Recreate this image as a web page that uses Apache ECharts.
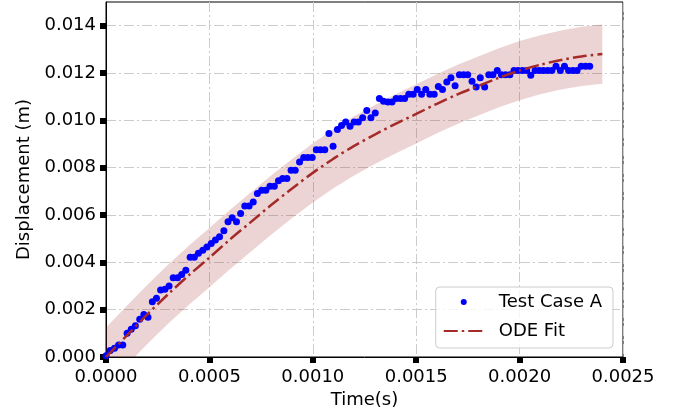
<!DOCTYPE html>
<html>
<head>
<meta charset="utf-8">
<script src="https://cdn.jsdelivr.net/npm/echarts@6/dist/echarts.min.js"></script>
<style>
  html, body { margin: 0; padding: 0; background: #ffffff; }
  #chart { width: 685px; height: 420px; }
</style>
</head>
<body>
<div id="chart"></div>
<script>
// Measured samples: time in microseconds, displacement in metres
const timeUs = [
  0, 20, 41, 61, 81, 102, 122, 142, 163, 183,
  203, 224, 244, 264, 285, 305, 325, 346, 366, 386,
  407, 427, 447, 468, 488, 509, 529, 549, 570, 590,
  610, 631, 651, 671, 692, 712, 732, 753, 773, 793,
  814, 834, 854, 875, 895, 915, 936, 956, 976, 997,
  1017, 1037, 1058, 1078, 1098, 1119, 1139, 1159, 1180, 1200,
  1220, 1241, 1261, 1281, 1302, 1322, 1342, 1363, 1383, 1403,
  1424, 1444, 1464, 1485, 1505, 1526, 1546, 1566, 1587, 1607,
  1627, 1648, 1668, 1688, 1709, 1729, 1749, 1770, 1790, 1810,
  1831, 1851, 1871, 1892, 1912, 1932, 1953, 1973, 1993, 2014,
  2034, 2054, 2075, 2095, 2115, 2136, 2156, 2176, 2197, 2217,
  2237, 2258, 2278, 2298, 2319, 2339
];
const dispM = [
  0.00005, 0.00027, 0.00037, 0.00051, 0.00051, 0.00100, 0.00117, 0.00132, 0.00159, 0.00180,
  0.00168, 0.00233, 0.00248, 0.00283, 0.00286, 0.00300, 0.00335, 0.00335, 0.00349, 0.00367,
  0.00421, 0.00421, 0.00438, 0.00451, 0.00465, 0.00480, 0.00494, 0.00508, 0.00533, 0.00571,
  0.00588, 0.00571, 0.00606, 0.00638, 0.00638, 0.00655, 0.00691, 0.00705, 0.00705, 0.00722,
  0.00722, 0.00745, 0.00754, 0.00754, 0.00789, 0.00789, 0.00824, 0.00843, 0.00843, 0.00843,
  0.00876, 0.00876, 0.00876, 0.00944, 0.00890, 0.00961, 0.00978, 0.00993, 0.00975, 0.00993,
  0.00993, 0.01011, 0.01042, 0.01011, 0.01031, 0.01092, 0.01081, 0.01077, 0.01077, 0.01092,
  0.01092, 0.01092, 0.01110, 0.01110, 0.01130, 0.01110, 0.01130, 0.01110, 0.01110, 0.01143,
  0.01130, 0.01162, 0.01180, 0.01146, 0.01193, 0.01193, 0.01193, 0.01165, 0.01141, 0.01180,
  0.01141, 0.01193, 0.01193, 0.01211, 0.01193, 0.01193, 0.01193, 0.01211, 0.01211, 0.01211,
  0.01211, 0.01190, 0.01211, 0.01211, 0.01211, 0.01211, 0.01211, 0.01229, 0.01211, 0.01229,
  0.01211, 0.01211, 0.01211, 0.01229, 0.01229, 0.01229
];

// ODE fit curve and its uncertainty band
const fitTimeS = [
  0, 0.0001, 0.0002, 0.0003, 0.0004, 0.0005, 0.0006, 0.0007, 0.0008, 0.0009,
  0.0010, 0.0011, 0.0012, 0.0013, 0.0014, 0.0015, 0.0016, 0.0017, 0.0018, 0.0019,
  0.0020, 0.0021, 0.0022, 0.0023, 0.0024
];
const fitDispM = [
  0, 0.00090, 0.00180, 0.00265, 0.00345, 0.00420, 0.00497, 0.00570, 0.00643, 0.00712,
  0.00778, 0.00838, 0.00892, 0.00940, 0.00985, 0.01027, 0.01070, 0.01110, 0.01145, 0.01180,
  0.01210, 0.01235, 0.01255, 0.01270, 0.01280
];
const fitBandHalfWidth = 0.00125;

// Axis ticks
const xTicks = [0, 0.0005, 0.0010, 0.0015, 0.0020, 0.0025];
const yTicks = [0, 0.002, 0.004, 0.006, 0.008, 0.010, 0.012, 0.014];

const FONT = 'DejaVu Sans';
const BROWN = '#a52a2a';
const gridLine = { color: '#cccccc', width: 1, type: [10, 3, 2, 3] };

const points = timeUs.map((t, i) => [t / 1e6, dispM[i]]);
const fitLine = fitTimeS.map((t, i) => [t, fitDispM[i]]);
const bandUpper = fitDispM.map((v) => v + fitBandHalfWidth);
const bandLower = fitDispM.map((v) => v - fitBandHalfWidth);

// Band outline: upper edge left to right, then lower edge right to left
function renderBand(params, api) {
  const pts = [];
  for (let i = 0; i < fitTimeS.length; i++) {
    pts.push(api.coord([fitTimeS[i], bandUpper[i]]));
  }
  for (let i = fitTimeS.length - 1; i >= 0; i--) {
    pts.push(api.coord([fitTimeS[i], bandLower[i]]));
  }
  return {
    type: 'polygon',
    shape: { points: pts, smooth: 0 },
    style: { fill: 'rgba(165,42,42,0.2)', stroke: null }
  };
}

const chart = echarts.init(document.getElementById('chart'), null, { renderer: 'canvas' });

chart.setOption({
  animation: false,
  backgroundColor: '#ffffff',
  textStyle: { fontFamily: FONT },
  grid: {
    left: 106, right: 62, top: 2, bottom: 63,
    show: true, borderColor: '#000000', borderWidth: 1,
    containLabel: false, outerBoundsMode: 'none'
  },
  legend: {
    right: 72, top: 287,
    orient: 'vertical',
    itemWidth: 40, itemHeight: 6, itemGap: 9,
    padding: [5, 11, 7, 7],
    backgroundColor: 'rgba(255,255,255,0.8)',
    borderColor: '#cccccc', borderWidth: 1, borderRadius: 4,
    textStyle: { fontFamily: FONT, fontSize: 18, color: '#000', lineHeight: 20, padding: [0, 0, 0, 10] },
    data: [
      { name: 'Test Case A', icon: 'circle', itemStyle: { color: '#0000ff', opacity: 1 } },
      { name: 'ODE Fit', itemStyle: { opacity: 0 } }
    ]
  },
  xAxis: {
    type: 'value', min: xTicks[0], max: xTicks[xTicks.length - 1], interval: 0.0005,
    name: 'Time(s)', nameLocation: 'middle', nameGap: 34,
    nameTextStyle: { fontFamily: FONT, fontSize: 18, color: '#000' },
    axisLine: { show: true, onZero: false, lineStyle: { color: '#000', width: 1 } },
    axisTick: { show: true, length: 6, lineStyle: { color: '#000', width: 6 } },
    axisLabel: { fontFamily: FONT, fontSize: 18, color: '#000', margin: 11, formatter: (v) => v.toFixed(4) },
    splitLine: { show: true, lineStyle: gridLine }
  },
  yAxis: {
    type: 'value', min: 0, max: 0.015, interval: 0.002,
    name: 'Displacement (m)', nameLocation: 'middle', nameGap: 72,
    nameTextStyle: { fontFamily: FONT, fontSize: 18, color: '#000' },
    axisLine: { show: true, onZero: false, lineStyle: { color: '#000', width: 1 } },
    axisTick: { show: true, length: 6, lineStyle: { color: '#000', width: 6 }, customValues: yTicks },
    axisLabel: { fontFamily: FONT, fontSize: 18, color: '#000', margin: 10, customValues: yTicks, formatter: (v) => v.toFixed(3) },
    splitLine: { show: true, lineStyle: gridLine }
  },
  series: [
    {
      name: 'band', type: 'custom', data: [0], clip: true, silent: true,
      renderItem: renderBand, z: 1
    },
    {
      name: 'Test Case A', type: 'scatter', data: points,
      symbol: 'circle', symbolSize: 7, z: 2,
      itemStyle: { color: '#0000ff', opacity: 1 }
    },
    {
      name: 'ODE Fit', type: 'line', data: fitLine,
      symbol: 'none', smooth: 0.3, z: 3,
      itemStyle: { color: BROWN },
      lineStyle: { color: BROWN, width: 2.5, type: [14, 4, 2.5, 4] }
    }
  ]
});
</script>
</body>
</html>
